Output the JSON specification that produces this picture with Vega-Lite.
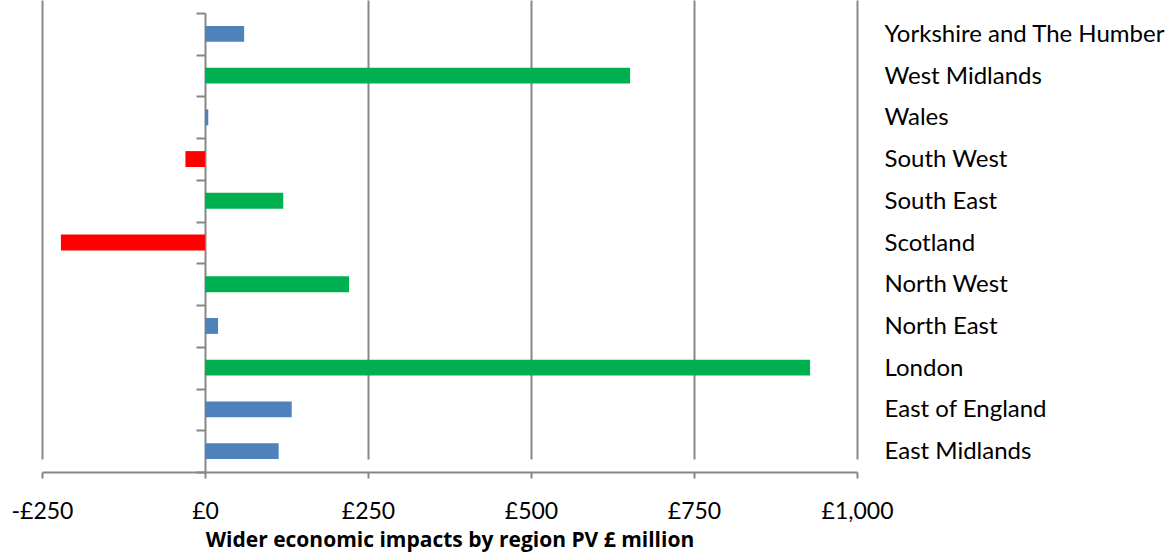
{
  "$schema": "https://vega.github.io/schema/vega-lite/v6.json",
  "width": 815,
  "height": 472,
  "autosize": "none",
  "padding": {"left": 42, "top": 0, "right": 317, "bottom": 84},
  "background": "white",
  "config": {
    "view": {"stroke": null},
    "font": "Lato",
    "axis": {"labelFont": "Lato", "titleFont": "Lato", "labelColor": "#000000", "titleColor": "#000000"}
  },
  "data": {
    "values": [
      {"region": "Yorkshire and The Humber", "value": 60, "group": "Gain"},
      {"region": "West Midlands", "value": 652, "group": "Gain (highlighted)"},
      {"region": "Wales", "value": 5, "group": "Gain"},
      {"region": "South West", "value": -30, "group": "Loss"},
      {"region": "South East", "value": 120, "group": "Gain (highlighted)"},
      {"region": "Scotland", "value": -221, "group": "Loss"},
      {"region": "North West", "value": 221, "group": "Gain (highlighted)"},
      {"region": "North East", "value": 20, "group": "Gain"},
      {"region": "London", "value": 928, "group": "Gain (highlighted)"},
      {"region": "East of England", "value": 133, "group": "Gain"},
      {"region": "East Midlands", "value": 113, "group": "Gain"}
    ]
  },
  "layer": [
    {
      "mark": {"type": "bar", "height": {"band": 0.38}},
      "encoding": {
        "y": {
          "field": "region",
          "type": "nominal",
          "sort": null,
          "scale": {"range": [13, 472], "paddingInner": 0, "paddingOuter": 0},
          "axis": {
            "orient": "left",
            "offset": -163,
            "title": null,
            "labels": false,
            "tickBand": "extent",
            "tickSize": 9,
            "tickWidth": 2,
            "tickColor": "#878787",
            "domainColor": "#878787",
            "domainWidth": 2,
            "grid": false
          }
        },
        "x": {
          "field": "value",
          "type": "quantitative",
          "scale": {"domain": [-250, 1000], "nice": false, "zero": false},
          "axis": {
            "values": [-250, 0, 250, 500, 750, 1000],
            "labelExpr": "(datum.value < 0 ? '-' : '') + '£' + format(abs(datum.value), ',')",
            "labelFontSize": 23,
            "labelPadding": 22,
            "labelFlush": false,
            "labelOverlap": false,
            "tickSize": 6,
            "tickWidth": 2,
            "tickColor": "#878787",
            "domainColor": "#878787",
            "domainWidth": 2,
            "grid": true,
            "gridColor": "#878787",
            "gridWidth": 2,
            "gridOpacity": {"condition": {"test": "datum.value === 0", "value": 0}, "value": 1},
            "title": "Wider economic impacts by region PV £ million",
            "titleFont": "Open Sans",
            "titleFontSize": 21,
            "titleFontWeight": "bold",
            "titlePadding": 6
          }
        },
        "color": {
          "field": "group",
          "type": "nominal",
          "scale": {"domain": ["Gain", "Gain (highlighted)", "Loss"], "range": ["#4F81BD", "#00B050", "#FF0000"]},
          "legend": null
        }
      }
    },
    {
      "mark": {"type": "point", "opacity": 0},
      "encoding": {
        "y": {
          "field": "region",
          "type": "nominal",
          "sort": null,
          "axis": {
            "orient": "right",
            "title": null,
            "domain": false,
            "ticks": false,
            "grid": false,
            "labelPadding": 27,
            "labelAlign": "left",
            "labelFontSize": 24,
            "labelOffset": 1,
            "labelLimit": 400
          }
        },
        "x": {"field": "value", "type": "quantitative"}
      }
    }
  ],
  "resolve": {"axis": {"y": "independent"}}
}
